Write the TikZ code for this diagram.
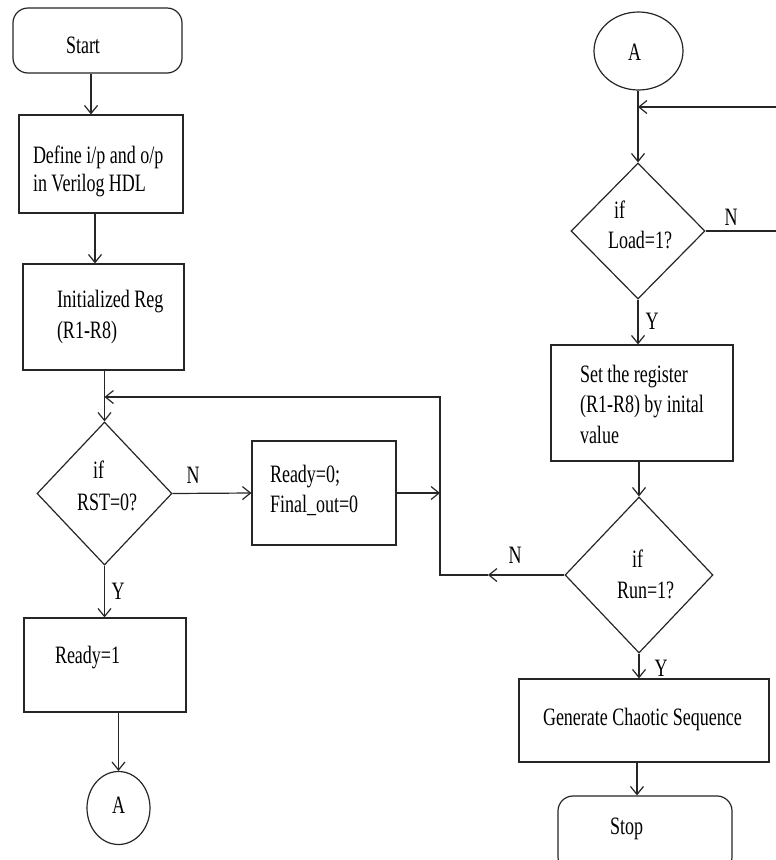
\documentclass[tikz,border=0pt]{standalone}
\usepackage{fontspec}
\setmainfont[FakeStretch=0.72]{Liberation Serif}
\usetikzlibrary{arrows.meta,shapes.geometric}
\newcommand\tx[3]{\makebox[0pt][l]{\hspace*{#1pt}\raisebox{#2pt}[0pt][0pt]{\begin{tabular}[t]{@{}l@{}}#3\end{tabular}}}}
\begin{document}
\begin{tikzpicture}[x=1pt,y=-1pt,
  every node/.style={font=\fontsize{25}{28}\selectfont, inner sep=0pt, text=black},
  ln/.style={draw=black!85, line width=1.2pt},
  proc/.style={rectangle, ln},
  term/.style={rectangle, rounded corners=15pt, ln},
  dec/.style={diamond, ln},
  conn/.style={ellipse, ln},
  arr/.style={ln, -{Straight Barb[length=8pt,width=13pt]}}]
\useasboundingbox (0,0) rectangle (776,860);
\clip (0,0) rectangle (776,860);
\fill[white] (0,0) rectangle (776,860);

% left column
\node[term, minimum width=169pt, minimum height=65pt] (start) at (97.5,40.5) {\tx{-31.5}{-12.5}{Start}};
\node[proc, minimum width=164pt, minimum height=98pt] (define) at (101,164) {\tx{-68}{1}{Define i/p and o/p\\in Verilog HDL}};
\node[proc, minimum width=161pt, minimum height=106pt] (init) at (103.5,317) {\tx{-46.5}{10}{Initialized Reg\\[3pt](R1-R8)}};
\node[dec, minimum width=135pt, minimum height=143pt] (rst) at (104.5,493.5) {\tx{-27.5}{15.5}{\hspace*{16pt}if\\[4pt]RST=0?}};
\node[proc, minimum width=144pt, minimum height=104pt] (ready0) at (324,493) {\tx{-54}{11}{Ready=0;\\[2pt]Final\_out=0}};
\node[proc, minimum width=162pt, minimum height=94pt] (ready1) at (105,665) {\tx{-50}{2}{Ready=1}};
\node[conn, minimum width=63pt, minimum height=73pt] (a1) at (118.5,808) {\tx{-6.5}{-5}{A}};

% right column
\node[conn, minimum width=89pt, minimum height=78pt] (a2) at (638.5,51) {\tx{-10.5}{-9}{A}};
\node[dec, minimum width=134pt, minimum height=136pt] (load) at (638,231) {\tx{-30}{13}{\hspace*{6pt}if\\[2pt]Load=1?}};
\node[proc, minimum width=182pt, minimum height=116pt] (set) at (642,403) {\tx{-62}{21}{Set the register\\[2.5pt](R1-R8) by inital\\[2.5pt]value}};
\node[dec, minimum width=148pt, minimum height=156pt] (run) at (639,575) {\tx{-22}{8}{\hspace*{15pt}if\\[3pt]Run=1?}};
\node[proc, minimum width=250pt, minimum height=83pt] (gen) at (644,720.5) {\tx{-101}{-4.5}{Generate Chaotic Sequence}};
\node[term, minimum width=174pt, minimum height=76pt] (stop) at (645,834) {\tx{-35}{0}{Stop}};

% labels
\node (nrst) at (193,475) {N};
\node (yrst) at (118,591) {Y};
\node (nload) at (731,217) {N};
\node (yload) at (652,321) {Y};
\node (nrun) at (515,555) {N};
\node (yrun) at (661,668) {Y};

% junction coordinates
\coordinate (j0) at (104.5,397);
\coordinate (j1) at (440,493);
\coordinate (c1) at (440,575);
\coordinate (c2) at (440,397);
\coordinate (nm) at (488,575);
\coordinate (j2) at (638,107);
\coordinate (c3) at (779,231);
\coordinate (c4) at (779,107);

% connectors
\draw[arr] ([xshift=-6.5pt]start.south) -- ([xshift=-10pt]define.north);
\draw[arr] ([xshift=-6pt]define.south) -- ([xshift=-8.5pt]init.north);
\draw[arr] (init.south -| rst.north) -- (rst.north);
\draw[arr] (rst.east) -- (ready0.west);
\draw[arr] (ready0.east) -- (j1);
\draw[arr] (run.west) -- (nm);
\draw[arr] (nm) -- (c1) -- (c2) -- (j0);
\draw[arr] (rst.south) -- (rst.south |- ready1.north);
\draw[arr] (ready1.south -| a1.north) -- (a1.north);
\draw[arr] (a2.south -| load.north) -- (load.north);
\draw[arr] (load.east) -- (c3) -- (c4) -- (j2);
\draw[arr] (load.south) -- (load.south |- set.north);
\draw[arr] (run.north |- set.south) -- (run.north);
\draw[arr] (run.south) -- (run.south |- gen.north);
\draw[arr] ([xshift=-7pt]gen.south) -- ([xshift=-8pt]stop.north);
\end{tikzpicture}
\end{document}
